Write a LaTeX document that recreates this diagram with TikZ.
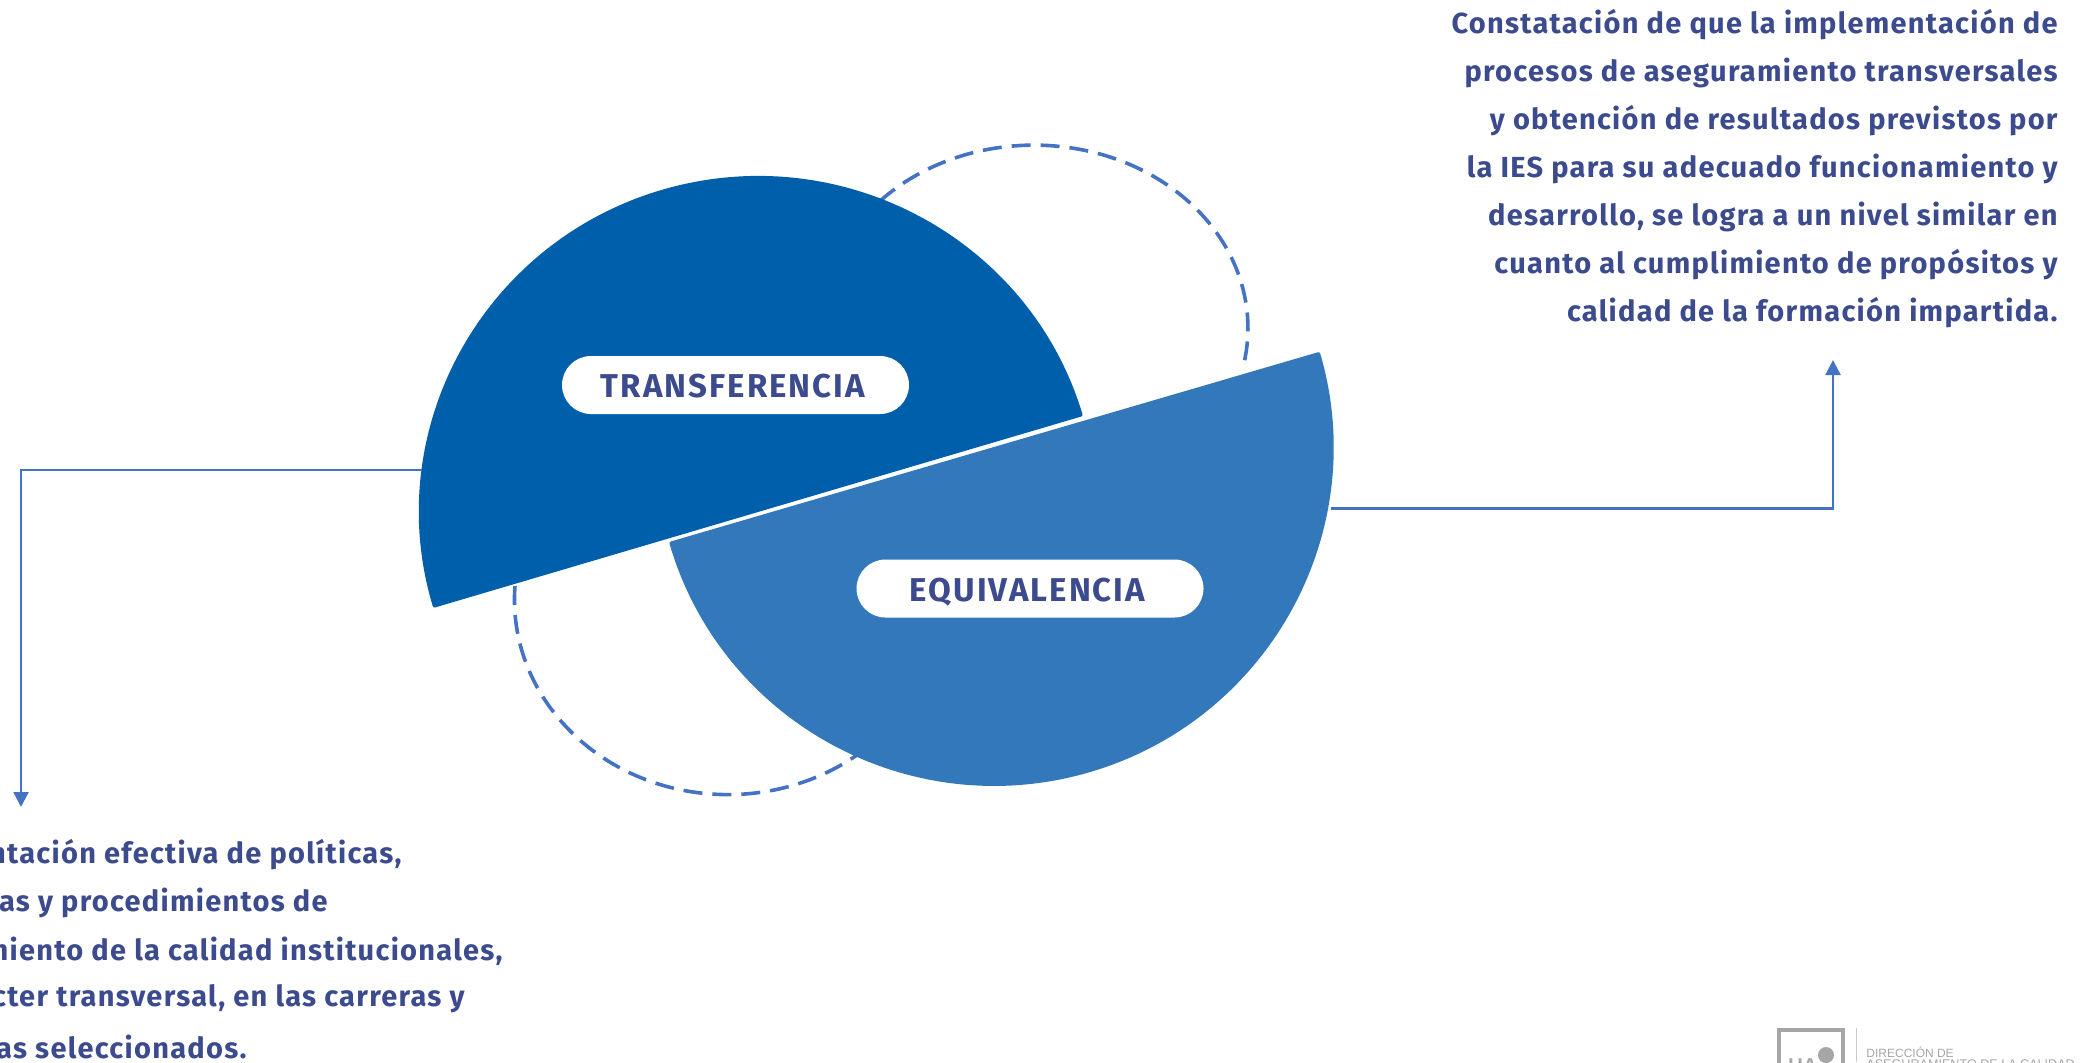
\documentclass[tikz,border=0pt]{standalone}
\usepackage{fontspec}
\setmainfont{Fira Sans}
\newfontfamily\din[LetterSpace=4.4]{Fira Sans}
\newfontfamily\dinpill[LetterSpace=6.2]{Fira Sans}
\newfontfamily\logofont{Liberation Sans}
\usetikzlibrary{arrows.meta}
\definecolor{darkblue}{HTML}{005FAA}
\definecolor{midblue}{HTML}{3478BC}
\definecolor{linkblue}{HTML}{4472C4}
\definecolor{inkblue}{HTML}{3C4A8E}
\definecolor{logogray}{HTML}{A6A6A6}
\tikzset{
  x=0.5pt,y=-0.5pt,
  para/.style={inner sep=0pt,text=inkblue,font=\din\bfseries\fontsize{14.5}{16}\selectfont},
  pill/.style={fill=white,rounded corners=14.5pt,minimum width=173.5pt,minimum height=29pt,inner sep=0pt,text=inkblue,font=\dinpill\bfseries\fontsize{16.5}{18}\selectfont},
  link/.style={draw=linkblue,line width=1.1pt,-{Triangle[length=7.5pt,width=7.5pt]}},
  dashring/.style={draw=linkblue,line width=1.8pt,dash pattern=on 9.5pt off 5pt},
}
\begin{document}
\begin{tikzpicture}
\useasboundingbox (0,0) rectangle (2093,1062);
% dashed rings
\draw[dashring] (880,201) arc[start angle=-136,end angle=11,x radius=214,y radius=183];
\draw[dashring] (515,586) arc[start angle=184,end angle=50,x radius=213.5,y radius=195];
% half discs
\fill[darkblue,rounded corners=1pt] (1083,416) arc[start angle=-16.6,end angle=-196.6,x radius=339,y radius=336] -- cycle;
\fill[midblue,rounded corners=1pt] (669,542) arc[start angle=163.7,end angle=-16.3,radius=339] -- cycle;
% pills
\node[pill] (t) at (735.5,385) {\raisebox{-6.2pt}[0pt][0pt]{\hspace*{-2.5pt}TRANSFERENCIA}};
\node[pill] (e) at (1030,588.5) {\raisebox{-6.5pt}[0pt][0pt]{\hspace*{-2.5pt}EQUIVALENCIA}};
% connectors
\coordinate (la) at (422,470);
\coordinate (lb) at (21,807);
\coordinate (ra) at (1331,508.5);
\coordinate (rb) at (1833,360);
\draw[link] (la) -| (lb);
\draw[link] (ra) -| (rb);
% right text
\node[para,anchor=east] (r1) at (2058,25) {Constatación de que la implementación de};
\node[para,anchor=east] (r2) at (2058,73) {procesos de aseguramiento transversales};
\node[para,anchor=east] (r3) at (2058,121) {y obtención de resultados previstos por};
\node[para,anchor=east] (r4) at (2058,169) {la IES para su adecuado funcionamiento y};
\node[para,anchor=east] (r5) at (2058,217) {desarrollo, se logra a un nivel similar en};
\node[para,anchor=east] (r6) at (2058,265) {cuanto al cumplimiento de propósitos y};
\node[para,anchor=east] (r7) at (2058,313) {calidad de la formación impartida.};
% left text, cut by the page edge
\node[para,anchor=east] (l1) at (402,855) {ntación efectiva de políticas,};
\node[para,anchor=east] (l2) at (328,903) {as y procedimientos de};
\node[para,anchor=east] (l3) at (503,951) {niento de la calidad institucionales,};
\node[para,anchor=east] (l4) at (465,999) {cter transversal, en las carreras y};
\node[para,anchor=east] (l5) at (247,1047) {as seleccionados.};
% logo
\draw[logogray,line width=2pt] (1779,1070) -- (1779,1030) -- (1843,1030) -- (1843,1070);
\draw[logogray!60,line width=0.5pt] (1856,1028) -- (1856,1062);
\node[inner sep=0pt,anchor=base west,text=logogray,font=\logofont\bfseries\fontsize{10}{10}\selectfont] (ua) at (1788,1072) {UA};
\fill[logogray] (1826,1055) circle[radius=8];
\node[inner sep=0pt,anchor=base west,text=logogray,font=\logofont\fontsize{6}{7}\selectfont] (dl) at (1866,1057) {DIRECCIÓN DE};
\node[inner sep=0pt,anchor=base west,text=logogray,font=\logofont\fontsize{6.3}{7}\selectfont] (d2) at (1866,1068) {ASEGURAMIENTO DE LA CALIDAD};
\end{tikzpicture}
\end{document}
